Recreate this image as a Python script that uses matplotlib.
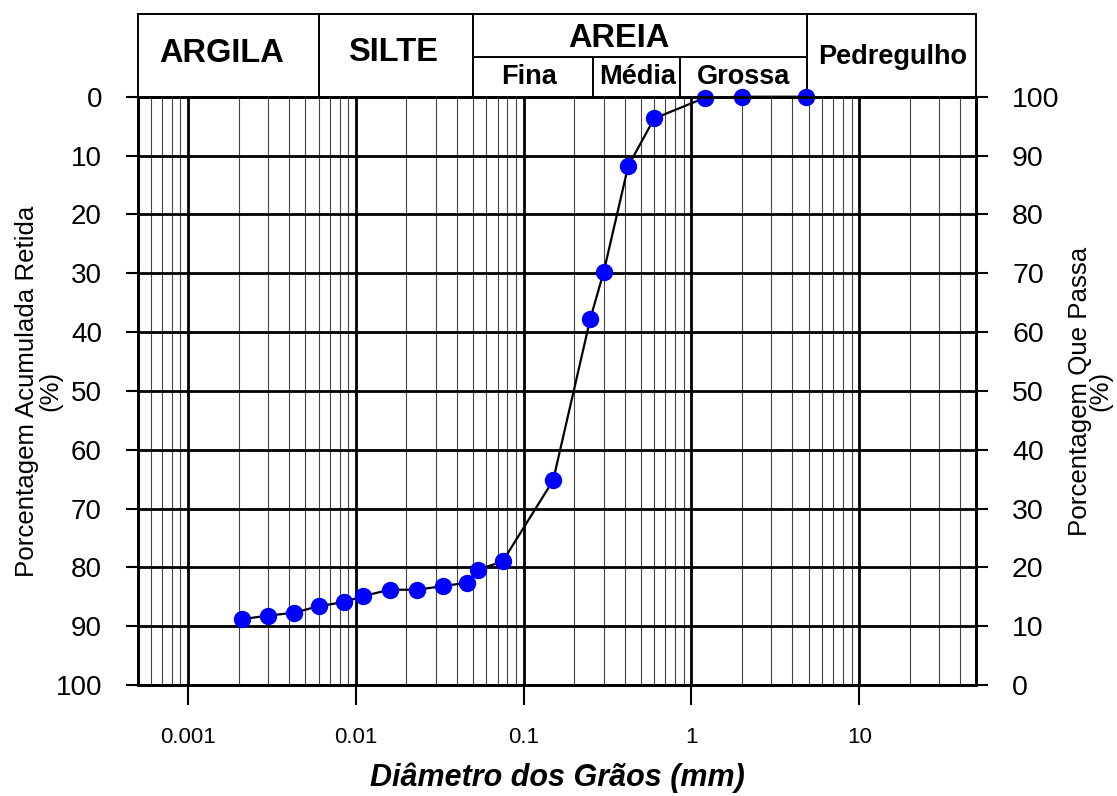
import numpy as np
import matplotlib
matplotlib.use("Agg")
import matplotlib.pyplot as plt
from matplotlib.ticker import LogLocator, FixedLocator, NullFormatter
from matplotlib.transforms import blended_transform_factory
from matplotlib.lines import Line2D

plt.rcParams['font.family'] = ['Liberation Sans', 'DejaVu Sans']

# grain size curve (diameter in mm, % retained accumulated)
diametro = [0.0021, 0.0030, 0.0043, 0.0060, 0.0085, 0.0110, 0.0159, 0.0230,
            0.0330, 0.0460, 0.0533, 0.0750, 0.150, 0.250, 0.300, 0.420,
            0.600, 1.20, 2.00, 4.80]
retida = [88.8, 88.2, 87.7, 86.6, 85.9, 84.9, 83.8, 83.8,
          83.2, 82.6, 80.4, 79.0, 65.2, 37.7, 29.8, 11.8,
          3.7, 0.2, 0.0, 0.0]

xticks = [0.001, 0.01, 0.1, 1, 10]
xticklabels = ['0.001', '0.01', '0.1', '1', '10']
yticks = list(range(0, 101, 10))

# header table (soil classes), boundaries in mm
top_bounds = [0.0005, 0.006, 0.05, 4.9, 50]
areia_bounds = [0.05, 0.26, 0.86, 4.9]
top_names = ['ARGILA', 'SILTE', 'AREIA', 'Pedregulho']
top_centers = [0.00158, 0.0166, 0.367, 15.9]
sub_names = ['Fina', 'Média', 'Grossa']
sub_centers = [0.107, 0.476, 2.05]

fig = plt.figure(figsize=(11.17, 7.96), dpi=100)
ax = fig.add_axes([0.1231, 0.1394, 0.7511, 0.7391])

ax.set_xscale('log')
ax.set_xlim(0.0005, 50)
ax.set_ylim(100, 0)

ax.xaxis.set_major_locator(FixedLocator(xticks))
ax.set_xticks(xticks)
ax.set_xticklabels(xticklabels)
ax.xaxis.set_minor_locator(LogLocator(base=10, subs=np.arange(2, 10), numticks=20))
ax.xaxis.set_minor_formatter(NullFormatter())
ax.set_yticks(yticks)

ax.grid(which='major', axis='both', color='black', linewidth=2.0)
ax.grid(which='minor', axis='x', color='#444444', linewidth=0.8)
ax.set_axisbelow(True)

ax.tick_params(axis='x', which='major', direction='out', length=14.5, width=1.5,
               labelsize=16, pad=16)
ax.tick_params(axis='x', which='minor', length=0)
ax.tick_params(axis='y', which='major', direction='out', length=8.6, width=1.5,
               labelsize=20, pad=17)
for sp in ax.spines.values():
    sp.set_linewidth(2.0)

ax.plot(diametro, retida, color='black', linewidth=1.6, marker='o',
        markersize=11.5, markerfacecolor='#0000FF', markeredgecolor='#0000FF',
        clip_on=False, zorder=5)

ax.set_xlabel('Diâmetro dos Grãos (mm)', fontsize=22, fontweight='bold',
              fontstyle='italic', labelpad=10)
ax.set_ylabel('Porcentagem Acumulada Retida\n(%)', fontsize=18.6,
              multialignment='center', linespacing=1.0)
ax.yaxis.set_label_coords(-0.089, 0.5)

ax2 = ax.twinx()
ax2.set_ylim(0, 100)
ax2.set_yticks([100 - v for v in yticks])
ax2.tick_params(axis='y', direction='out', length=8.6, width=1.5,
                labelsize=20.5, pad=17)
for sp in ax2.spines.values():
    sp.set_linewidth(2.0)
ax2.set_ylabel('Porcentagem Que Passa\n(%)', fontsize=18.6,
               multialignment='center', linespacing=0.8)
ax2.yaxis.set_label_coords(1.109, 0.5)

# header table drawn above the axes
tr = blended_transform_factory(ax.transData, ax.transAxes)
y_top, y_mid, y_bot = 1.1406, 1.0675, 1.0
lw_h = 1.4
ax.add_line(Line2D([top_bounds[0], top_bounds[-1]], [y_top, y_top], transform=tr,
                   color='black', lw=lw_h, clip_on=False))
for b in top_bounds:
    ax.add_line(Line2D([b, b], [y_bot, y_top], transform=tr, color='black',
                       lw=lw_h, clip_on=False))
ax.add_line(Line2D([areia_bounds[0], areia_bounds[-1]], [y_mid, y_mid],
                   transform=tr, color='black', lw=lw_h, clip_on=False))
for b in areia_bounds[1:-1]:
    ax.add_line(Line2D([b, b], [y_bot, y_mid], transform=tr, color='black',
                       lw=lw_h, clip_on=False))

top_base = [1.0585, 1.0600, 1.0845, 1.055]
top_size = [23.5, 23.5, 23.5, 19.5]
for name, cx, by, fs in zip(top_names, top_centers, top_base, top_size):
    ax.text(cx, by, name, transform=tr, ha='center', va='baseline',
            fontsize=fs, fontweight='bold')
for name, cx in zip(sub_names, sub_centers):
    ax.text(cx, 1.021, name, transform=tr, ha='center', va='baseline',
            fontsize=19.5, fontweight='bold')

fig.savefig('out.png', dpi=100)
